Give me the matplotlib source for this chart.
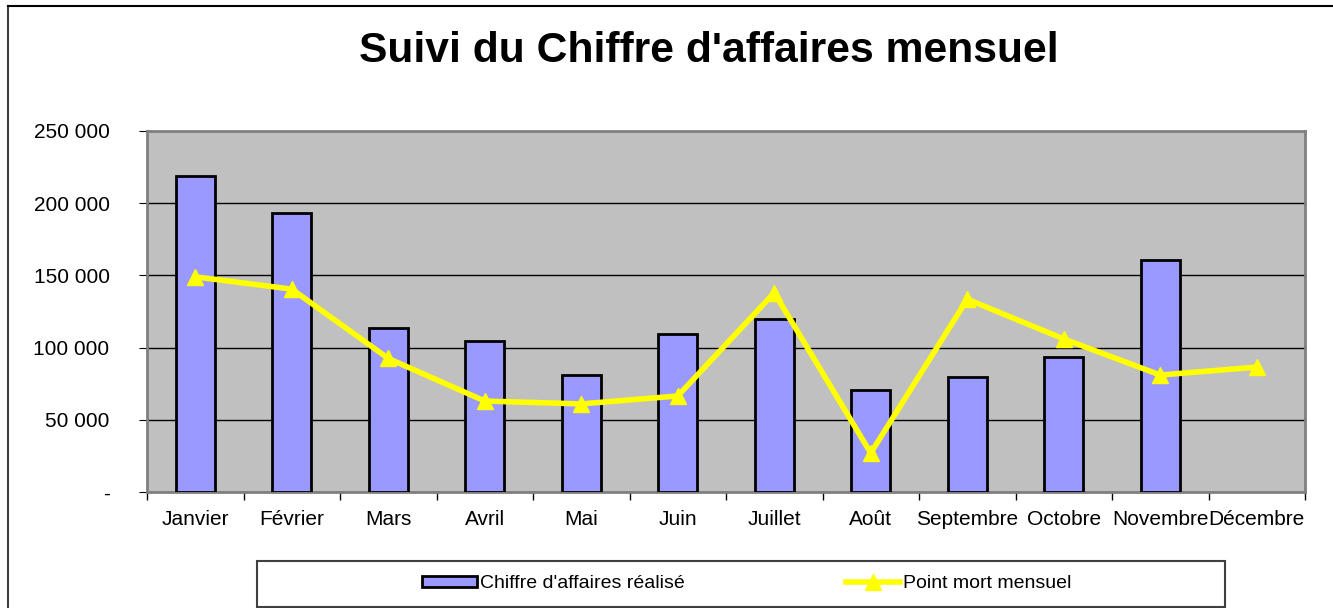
import matplotlib
matplotlib.use("Agg")
import matplotlib.pyplot as plt
import numpy as np
from matplotlib.patches import Rectangle
from matplotlib.lines import Line2D
from matplotlib.ticker import FuncFormatter, FixedLocator

months = ["Janvier", "Février", "Mars", "Avril", "Mai", "Juin", "Juillet",
          "Août", "Septembre", "Octobre", "Novembre", "Décembre"]
ca_realise = [219000, 193000, 113500, 104500, 81000, 109500, 119800,
              70500, 79500, 93500, 160800, np.nan]
point_mort = [149000, 140500, 92500, 63000, 61000, 66500, 138000,
              27000, 133500, 106000, 81000, 86500]
yticks = [0, 50000, 100000, 150000, 200000, 250000]

plt.rcParams['font.family'] = ['Liberation Sans', 'DejaVu Sans']

fig = plt.figure(figsize=(13.33, 6.08), dpi=100)
ax = fig.add_axes([147/1333, 1-492/608, (1305-147)/1333, (492-131)/608])
ax.set_facecolor('#C0C0C0')

x = np.arange(len(months))
bars = ax.bar(x, ca_realise, width=0.4, color='#9999FF', edgecolor='black',
              linewidth=2, zorder=3, label="Chiffre d'affaires réalisé")
line, = ax.plot(x, point_mort, color='#FFFF00', linewidth=4, marker='^',
                markersize=11, zorder=4, label="Point mort mensuel")

ax.set_xlim(-0.5, len(months) - 0.5)
ax.set_ylim(0, 250000)
ax.set_yticks(yticks)
ax.yaxis.set_major_formatter(FuncFormatter(
    lambda v, p: '-' if v == 0 else f"{int(v):,}".replace(',', ' ')))
ax.grid(axis='y', color='black', linewidth=1, zorder=1)
ax.set_axisbelow(True)

ax.set_xticks(x)
ax.set_xticklabels(months, fontsize=15)
ax.tick_params(axis='x', which='major', length=0, pad=13)
ax.xaxis.set_minor_locator(FixedLocator(np.arange(-0.5, len(months), 1)))
ax.tick_params(axis='x', which='minor', length=6, direction='out', width=1)
ax.tick_params(axis='y', length=6, direction='out', labelsize=15, pad=21)

for s in ['top', 'right', 'left', 'bottom']:
    ax.spines[s].set_color('#808080')
    ax.spines[s].set_linewidth(2)

fig.text(709/1333, 1-62/608, "Suivi du Chiffre d'affaires mensuel",
         ha='center', va='baseline', fontsize=30.7, fontweight='bold')

bar_handle = Rectangle((0, 0), 1, 1, facecolor='#9999FF', edgecolor='black',
                       linewidth=2)
line_handle = Line2D([], [], color='#FFFF00', linewidth=4, marker='^',
                     markersize=11)
leg = fig.legend([bar_handle, line_handle],
                 ["Chiffre d'affaires réalisé", "Point mort mensuel"],
                 loc='center', bbox_to_anchor=(747/1333, 1-584/608),
                 ncol=2, frameon=False, fontsize=14, columnspacing=8.3,
                 handlelength=2.8, handletextpad=0.15, handleheight=0.5)

fig.patches.append(Rectangle((257/1333, 1-607/608), (1225-257)/1333,
                             (607-561)/608, transform=fig.transFigure,
                             fill=False, edgecolor='#404040', linewidth=1.5))
fig.add_artist(Line2D([8/1333, 8/1333], [0, 1-6/608], transform=fig.transFigure,
                      color='#404040', linewidth=1.5))
fig.add_artist(Line2D([8/1333, 1], [1-6/608, 1-6/608], transform=fig.transFigure,
                      color='black', linewidth=1.5))

fig.savefig("out.png", dpi=100)
